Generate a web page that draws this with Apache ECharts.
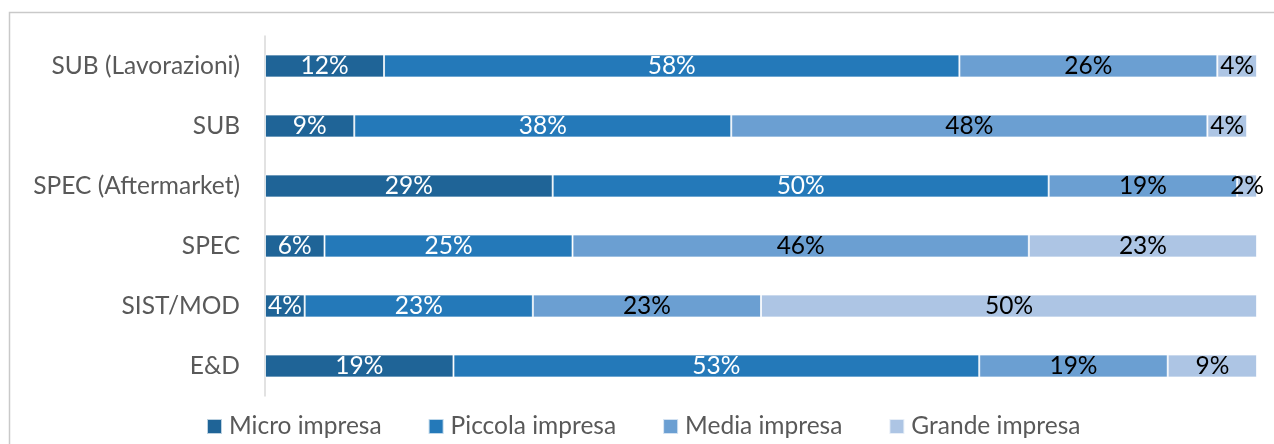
<!DOCTYPE html>
<html>
<head>
<meta charset="utf-8">
<title>Distribuzione per dimensione d'impresa</title>
<script src="https://cdn.jsdelivr.net/npm/echarts@6/dist/echarts.min.js"></script>
<style>
  html, body { margin: 0; padding: 0; background: #ffffff; }
  #chart { width: 1274px; height: 444px; }
</style>
</head>
<body>
<div id="chart"></div>
<script>
// Segments of the supply chain (top to bottom)
const categories = ['SUB (Lavorazioni)', 'SUB', 'SPEC (Aftermarket)', 'SPEC', 'SIST/MOD', 'E&D'];

// Share of firms by size class, in percent
const microImpresa   = [12,  9, 29,  6,  4, 19];
const piccolaImpresa = [58, 38, 50, 25, 23, 53];
const mediaImpresa   = [26, 48, 19, 46, 23, 19];
const grandeImpresa  = [ 4,  4,  2, 23, 50,  9];

const seriesNames = ['Micro impresa', 'Piccola impresa', 'Media impresa', 'Grande impresa'];
const seriesData = [microImpresa, piccolaImpresa, mediaImpresa, grandeImpresa];
const seriesColors = ['#1f6497', '#2479b9', '#6b9fd2', '#adc5e4'];
const labelColors = ['#ffffff', '#ffffff', '#000000', '#000000'];

const FONT = 'Lato, "Open Sans", sans-serif';

const chart = echarts.init(document.getElementById('chart'), null, { renderer: 'canvas' });

chart.setOption({
  animation: false,
  backgroundColor: '#ffffff',
  graphic: [{
    type: 'rect',
    shape: { x: 9.5, y: 12.5, width: 1400, height: 600 },
    style: { fill: 'none', stroke: '#c9c9c9', lineWidth: 1.5 },
    silent: true,
    z: -10
  }],
  grid: { left: 265, right: 17, top: 36, bottom: 48, containLabel: false },
  legend: {
    left: 201,
    top: 409,
    icon: 'rect',
    itemWidth: 15,
    itemHeight: 15,
    itemGap: 46,
    textStyle: { fontFamily: FONT, fontSize: 24.5, color: '#595959', padding: [0, 0, 0, 2] },
    data: seriesNames
  },
  xAxis: {
    type: 'value',
    min: 0,
    max: 100,
    show: false
  },
  yAxis: {
    type: 'category',
    data: categories,
    inverse: true,
    axisLine: { show: true, lineStyle: { color: '#d9d9d9', width: 1.5 } },
    axisTick: { show: false },
    axisLabel: { fontFamily: FONT, fontSize: 24.5, color: '#595959', margin: 25 }
  },
  series: seriesNames.map((name, i) => ({
    name: name,
    type: 'bar',
    stack: 'totale',
    barWidth: 23,
    data: seriesData[i],
    itemStyle: { color: seriesColors[i], borderColor: 'rgba(255,255,255,0.7)', borderWidth: 1 },
    label: {
      show: true,
      position: 'inside',
      formatter: '{c}%',
      fontFamily: FONT,
      fontSize: 24.5,
      color: labelColors[i]
    }
  }))
});
</script>
</body>
</html>
